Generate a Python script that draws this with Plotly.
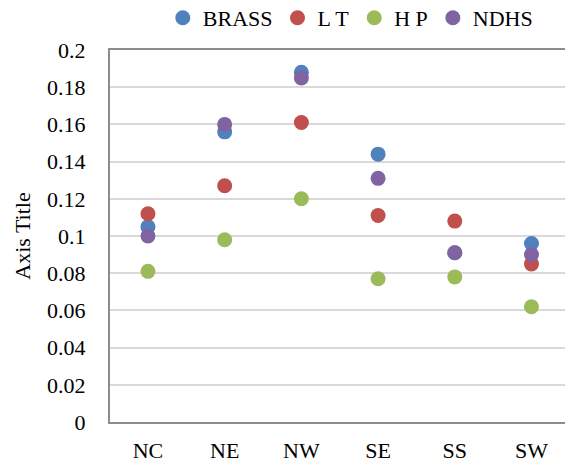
import plotly.graph_objects as go

categories = ["NC", "NE", "NW", "SE", "SS", "SW"]
brass = [0.105, 0.156, 0.188, 0.144, 0.091, 0.096]
lt = [0.112, 0.127, 0.161, 0.111, 0.108, 0.085]
hp = [0.081, 0.098, 0.120, 0.077, 0.078, 0.062]
ndhs = [0.100, 0.160, 0.185, 0.131, 0.091, 0.090]

series = [
    ("BRASS", brass, "#4F81BD"),
    ("L T", lt, "#C0504D"),
    ("H P", hp, "#9BBB59"),
    ("NDHS", ndhs, "#8064A2"),
]

FONT = "Liberation Serif, Times New Roman, serif"

fig = go.Figure()
for name, vals, col in series:
    fig.add_trace(go.Scatter(
        x=list(range(len(categories))), y=vals, mode="markers", name=name,
        marker=dict(size=15, color=col, line=dict(width=0)),
    ))

fig.update_layout(
    width=565, height=463,
    margin=dict(l=110, r=0, t=50, b=41, autoexpand=False),
    paper_bgcolor="white", plot_bgcolor="white",
    font=dict(family=FONT, size=22, color="black"),
    showlegend=True,
    legend=dict(
        orientation="h", x=0.116, xanchor="left", y=1.086, yanchor="middle",
        font=dict(family=FONT, size=22, color="black"),
        itemwidth=30, tracegroupgap=0, bgcolor="rgba(0,0,0,0)",
    ),
    xaxis=dict(
        tickmode="array", tickvals=list(range(len(categories))), ticktext=categories,
        range=[-0.495, 5.437], showgrid=False, zeroline=False,
        showline=True, linecolor="#8C8C8C", linewidth=2, mirror=True,
        ticks="", ticklabelstandoff=8, automargin=False,
        tickfont=dict(family=FONT, size=22, color="black"),
    ),
    yaxis=dict(
        range=[0, 0.2], dtick=0.02, tickformat="~g",
        showgrid=True, gridcolor="#D9D9D9", gridwidth=1.5,
        zeroline=False, showline=True, linecolor="#8C8C8C", linewidth=2,
        ticks="", ticklabelstandoff=18, automargin=False,
        tickfont=dict(family=FONT, size=22, color="black"),
        title=dict(text="Axis Title", standoff=10,
                   font=dict(family=FONT, size=22, color="black")),
    ),
)

fig.write_html("out.html")
